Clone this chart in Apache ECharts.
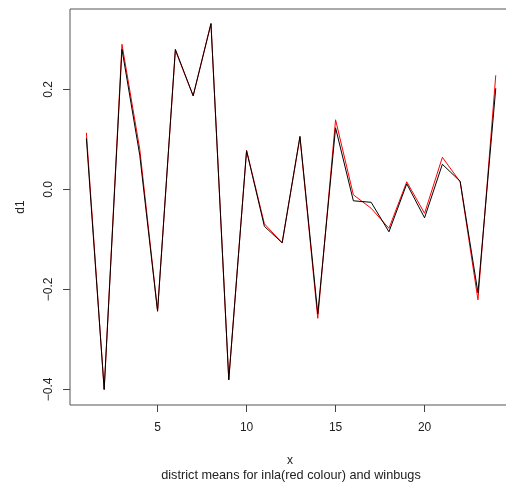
<!DOCTYPE html>
<html>
<head>
<meta charset="utf-8">
<script src="https://cdn.jsdelivr.net/npm/echarts@6/dist/echarts.min.js"></script>
<style>
html,body{margin:0;padding:0;background:#fff;}
#chart{width:506px;height:490px;}
</style>
</head>
<body>
<div id="chart"></div>
<script>
var districts = [1,2,3,4,5,6,7,8,9,10,11,12,13,14,15,16,17,18,19,20,21,22,23,24];
var inlaMeans = [0.113,-0.401,0.290,0.080,-0.243,0.278,0.187,0.332,-0.381,0.078,-0.069,-0.107,0.104,-0.258,0.139,-0.011,-0.038,-0.078,0.015,-0.048,0.064,0.015,-0.221,0.228];
var winbugsMeans = [0.102,-0.400,0.280,0.068,-0.244,0.280,0.187,0.331,-0.381,0.077,-0.074,-0.107,0.106,-0.249,0.123,-0.023,-0.026,-0.085,0.011,-0.057,0.050,0.016,-0.207,0.202];
var xTicks = [5,10,15,20];
var yTicks = [-0.4,-0.2,0.0,0.2];

function pairs(xs, ys){ return xs.map(function(x,i){ return [x, ys[i]]; }); }

var font = '"Liberation Sans", Arial, Helvetica, sans-serif';
var chart = echarts.init(document.getElementById('chart'), null, {renderer:'canvas'});
chart.setOption({
  animation:false,
  backgroundColor:'#fff',
  grid:{left:70, top:9, width:440, height:396, show:true, borderColor:'#555', borderWidth:1, backgroundColor:'transparent', outerBoundsMode:'none'},
  xAxis:{
    type:'value', min:0.08, max:24.80,
    name:'x', nameLocation:'middle', nameGap:50,
    nameTextStyle:{fontFamily:font, fontSize:12, color:'#222'},
    axisLine:{show:false, onZero:false},
    splitLine:{show:false},
    axisTick:{show:true, length:7, customValues:xTicks, lineStyle:{color:'#444'}},
    axisLabel:{customValues:xTicks, margin:17, fontFamily:font, fontSize:12, color:'#222',
      formatter:function(v){ return String(v); }}
  },
  yAxis:{
    type:'value', min:-0.4314, max:0.3606,
    name:'d1', nameLocation:'middle', nameGap:43, nameRotate:90,
    nameTextStyle:{fontFamily:font, fontSize:12, color:'#222'},
    axisLine:{show:false, onZero:false},
    splitLine:{show:false},
    axisTick:{show:true, length:7, customValues:yTicks, lineStyle:{color:'#444'}},
    axisLabel:{customValues:yTicks, rotate:90, margin:15, fontFamily:font, fontSize:12, color:'#222',
      formatter:function(v){ return (Math.round(v*10)/10).toFixed(1).replace('-','\u2212'); }}
  },
  graphic:[{
    type:'text',
    x:291, y:475,
    style:{text:'district means for inla(red colour) and winbugs', fill:'#222', font:'12.7px ' + font, textAlign:'center', textVerticalAlign:'middle'}
  }],
  series:[
    {type:'line', data:pairs(districts, inlaMeans), showSymbol:false, symbol:'none', lineStyle:{color:'#ff0000', width:1}, z:2},
    {type:'line', data:pairs(districts, winbugsMeans), showSymbol:false, symbol:'none', lineStyle:{color:'#000000', width:1}, z:3}
  ]
});
</script>
</body>
</html>
